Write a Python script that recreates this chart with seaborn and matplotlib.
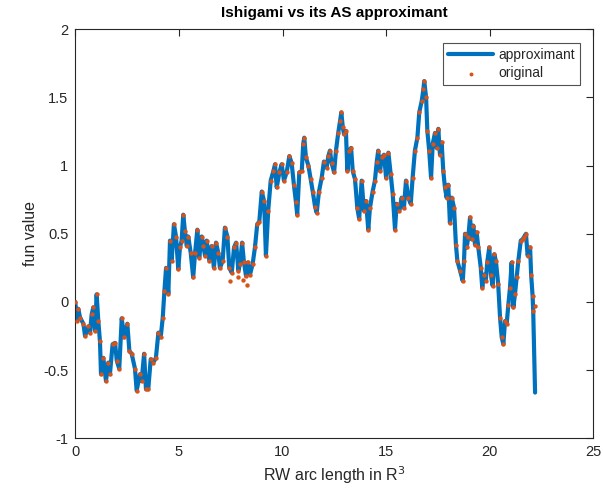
import matplotlib
matplotlib.use("Agg")
import matplotlib.pyplot as plt
import seaborn as sns
import pandas as pd

arc_length = [
    0.00, 0.07, 0.14, 0.23, 0.39, 0.47, 0.63, 0.71, 0.79, 0.87, 0.95, 1.03, 1.11, 1.19, 1.24, 1.35,
    1.48, 1.59, 1.67, 1.80, 1.92, 2.00, 2.12, 2.24, 2.35, 2.51, 2.61, 2.72, 2.88, 2.96, 3.12, 3.20,
    3.32, 3.41, 3.52, 3.64, 3.76, 3.89, 4.01, 4.12, 4.22, 4.30, 4.38, 4.49, 4.57, 4.65, 4.76, 4.86,
    4.97, 5.05, 5.13, 5.21, 5.29, 5.38, 5.45, 5.57, 5.69, 5.78, 5.89, 5.98, 6.10, 6.18, 6.26, 6.34,
    6.47, 6.58, 6.69, 6.79, 6.90, 6.98, 7.11, 7.22, 7.34, 7.43, 7.55, 7.66, 7.76, 7.87, 7.95, 8.05,
    8.14, 8.24, 8.32, 8.43, 8.56, 8.67, 8.78, 8.88, 9.00, 9.11, 9.20, 9.31, 9.43, 9.56, 9.64, 9.72,
    9.85, 9.96, 10.07, 10.20, 10.33, 10.44, 10.55, 10.65, 10.71, 10.81, 10.93, 11.00, 11.05, 11.13,
    11.25, 11.36, 11.46, 11.57, 11.65, 11.76, 11.89, 12.00, 12.13, 12.21, 12.29, 12.37, 12.49, 12.58,
    12.69, 12.78, 12.84, 12.91, 12.97, 13.06, 13.13, 13.22, 13.31, 13.39, 13.50, 13.61, 13.70, 13.82,
    13.93, 14.03, 14.14, 14.22, 14.35, 14.46, 14.55, 14.62, 14.71, 14.79, 14.90, 15.00, 15.11, 15.22,
    15.32, 15.43, 15.51, 15.64, 15.75, 15.86, 15.96, 16.07, 16.19, 16.28, 16.39, 16.51, 16.60, 16.72,
    16.80, 16.84, 16.93, 16.99, 17.08, 17.17, 17.25, 17.36, 17.44, 17.52, 17.60, 17.68, 17.76, 17.84,
    17.92, 18.00, 18.08, 18.17, 18.28, 18.37, 18.44, 18.57, 18.70, 18.76, 18.81, 18.89, 18.97, 19.05,
    19.13, 19.21, 19.29, 19.37, 19.45, 19.57, 19.64, 19.72, 19.81, 19.88, 19.98, 20.06, 20.14, 20.22,
    20.30, 20.41, 20.50, 20.58, 20.66, 20.74, 20.82, 20.90, 20.98, 21.06, 21.14, 21.22, 21.30, 21.38,
    21.50, 21.59, 21.67, 21.75, 21.83, 21.95, 22.00, 22.07, 22.10, 22.19,
]

approximant = [
    0.00, -0.14, -0.05, -0.115, -0.16, -0.25, -0.18, -0.225, -0.09, -0.04, -0.21, 0.056, -0.14, -0.29, -0.53, -0.41,
    -0.58, -0.445, -0.53, -0.31, -0.30, -0.43, -0.49, -0.12, -0.26, -0.16, -0.36, -0.38, -0.49, -0.65, -0.53, -0.58,
    -0.38, -0.64, -0.64, -0.42, -0.445, -0.41, -0.225, -0.26, -0.115, 0.08, 0.25, 0.06, 0.45, 0.30, 0.57, 0.48,
    0.24, 0.40, 0.45, 0.64, 0.52, 0.41, 0.48, 0.36, 0.18, 0.36, 0.53, 0.325, 0.48, 0.41, 0.34, 0.45,
    0.30, 0.41, 0.25, 0.435, 0.36, 0.25, 0.30, 0.545, 0.48, 0.25, 0.215, 0.40, 0.435, 0.23, 0.28, 0.435,
    0.29, 0.19, 0.29, 0.20, 0.28, 0.40, 0.57, 0.59, 0.81, 0.74, 0.34, 0.67, 0.89, 0.96, 1.01, 0.84,
    0.95, 1.01, 0.89, 0.95, 1.07, 1.02, 0.86, 0.73, 0.64, 0.95, 0.96, 1.16, 1.205, 1.06,
    1.00, 0.90, 0.81, 0.70, 0.655, 0.81, 0.91, 1.03, 0.985, 1.07, 1.11, 1.02, 0.95, 1.11,
    1.24, 1.33, 1.39, 1.28, 1.23, 1.255, 0.96, 1.11, 1.13, 0.96, 0.90, 0.69, 0.61, 0.89,
    0.67, 0.74, 0.53, 0.69, 0.81, 0.89, 1.03, 1.11, 0.96, 1.06, 1.08, 0.91, 1.095, 0.94,
    0.79, 0.53, 0.72, 0.67, 0.765, 0.69, 0.89, 0.765, 0.72, 0.91, 1.11, 1.205, 1.39, 1.475,
    1.56, 1.62, 1.50, 1.255, 1.11, 0.91, 1.16, 1.24, 1.13, 1.27, 1.08, 1.17, 0.96, 0.84,
    0.765, 0.86, 0.58, 0.765, 0.69, 0.42, 0.30, 0.23, 0.154, 0.30, 0.50, 0.40, 0.48, 0.62,
    0.46, 0.56, 0.42, 0.51, 0.40, 0.25, 0.105, 0.20, 0.154, 0.29, 0.40, 0.20, 0.12, 0.35,
    0.30, 0.13, -0.115, -0.26, -0.31, -0.14, -0.16, -0.02, 0.105, 0.29, -0.04, 0.056, 0.18, 0.30,
    0.45, 0.46, 0.48, 0.50, 0.34, 0.40, 0.20, 0.045, -0.066, -0.665,
]

original = list(approximant[:-1]) + [-0.03]

# extra original samples lying off the approximant curve
extra_arc = [7.47, 7.87, 8.27, 8.10]
extra_orig = [0.154, 0.18, 0.125, 0.16]

df_line = pd.DataFrame({"x": arc_length, "y": approximant})
df_pts = pd.DataFrame({"x": arc_length + extra_arc, "y": original + extra_orig})

sns.set_style("white")
plt.rcParams["font.family"] = ["Liberation Sans", "DejaVu Sans"]

fig = plt.figure(figsize=(6.03, 4.94), dpi=100)
ax = fig.add_axes([0.1249, 0.1128, 0.8590, 0.8279])

blue = "#0072BD"
orange = "#D95319"

sns.lineplot(data=df_line, x="x", y="y", sort=False, estimator=None, ax=ax,
             color=blue, linewidth=3, label="approximant")
sns.scatterplot(data=df_pts, x="x", y="y", ax=ax, color=orange, s=10,
                linewidth=0, marker="o", label="original", zorder=3)

ax.set_xlim(0, 25)
ax.set_ylim(-1, 2)
ax.set_xticks([0, 5, 10, 15, 20, 25])
ax.set_xticklabels(["0", "5", "10", "15", "20", "25"])
ax.set_yticks([-1, -0.5, 0, 0.5, 1, 1.5, 2])
ax.set_yticklabels(["-1", "-0.5", "0", "0.5", "1", "1.5", "2"])

axis_col = "#262626"
for sp in ax.spines.values():
    sp.set_visible(True)
    sp.set_color(axis_col)
    sp.set_linewidth(0.8)
ax.tick_params(axis="both", which="both", direction="in", length=5, width=0.8,
               colors=axis_col, labelsize=10.5, top=True, right=True,
               labelcolor="#262626", pad=5)

ax.set_title("Ishigami vs its AS approximant", fontsize=11, fontweight="bold",
             color="black", pad=9)
ax.set_xlabel("RW arc length in R$^3$", fontsize=11.5, color="#262626")
ax.set_ylabel("fun value", fontsize=11.5, color="#262626")

leg = ax.legend(loc="upper right", fontsize=10, frameon=True, fancybox=False,
                edgecolor=axis_col, handlelength=3.2, handletextpad=0.4,
                borderpad=0.35, labelspacing=0.3, borderaxespad=0,
                bbox_to_anchor=(0.974, 0.966))
leg.get_frame().set_linewidth(0.8)
for h in leg.legend_handles:
    try:
        h.set_sizes([8])
    except AttributeError:
        pass

fig.savefig("out.png", dpi=100)
